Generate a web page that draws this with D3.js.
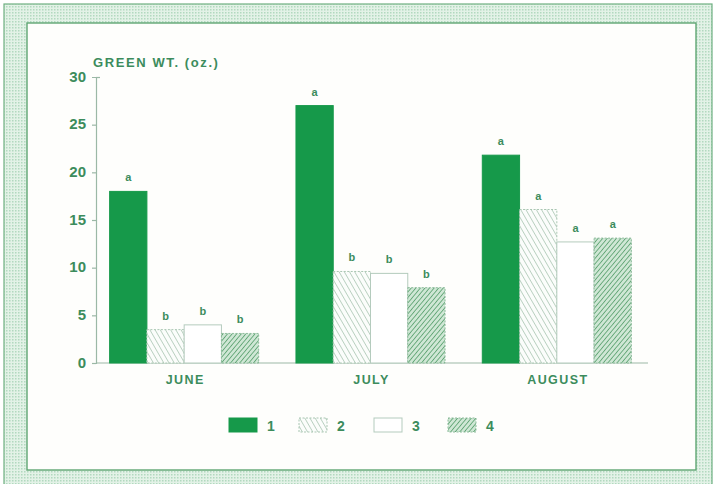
<!DOCTYPE html>
<html>
<head>
<meta charset="utf-8">
<script src="https://cdn.jsdelivr.net/npm/d3@7"></script>
<style>
  body { margin: 0; background: #fff; }
  text { font-family: "Liberation Sans", Arial, sans-serif; font-weight: bold; fill: #3c8c5c; }
</style>
</head>
<body>
<svg id="chart" width="718" height="484"></svg>
<script>
var months = ['JUNE', 'JULY', 'AUGUST'];
var treatments = ['1', '2', '3', '4'];
var june = [18, 3.5, 4.0, 3.1];
var july = [27, 9.6, 9.4, 7.9];
var august = [21.8, 16.1, 12.7, 13.1];
var juneLetters = ['a', 'b', 'b', 'b'];
var julyLetters = ['a', 'b', 'b', 'b'];
var augustLetters = ['a', 'a', 'a', 'a'];
var yTicks = [0, 5, 10, 15, 20, 25, 30];

var series = [june, july, august];
var letters = [juneLetters, julyLetters, augustLetters];

var svg = d3.select('#chart');
var green = '#16994a';
var axisColor = '#9bb8a6';

var defs = svg.append('defs');

// background mesh for the frame
var mesh = defs.append('pattern').attr('id', 'mesh')
    .attr('patternUnits', 'userSpaceOnUse').attr('width', 3).attr('height', 3);
mesh.append('rect').attr('width', 3).attr('height', 3).attr('fill', '#e3f2e7');
mesh.append('rect').attr('width', 1.5).attr('height', 1.5).attr('fill', '#b2d9bf');

var hatch2 = defs.append('pattern').attr('id', 'hatch2')
    .attr('patternUnits', 'userSpaceOnUse').attr('width', 4.5).attr('height', 4.5)
    .attr('patternTransform', 'rotate(-30)');
hatch2.append('rect').attr('width', 4.5).attr('height', 4.5).attr('fill', '#fbfdfb');
hatch2.append('line').attr('x1', 0).attr('y1', 0).attr('x2', 0).attr('y2', 4.5)
    .attr('stroke', '#97b9a2').attr('stroke-width', 1.2);

var hatch4 = defs.append('pattern').attr('id', 'hatch4')
    .attr('patternUnits', 'userSpaceOnUse').attr('width', 3.5).attr('height', 3.5)
    .attr('patternTransform', 'rotate(40)');
hatch4.append('rect').attr('width', 3.5).attr('height', 3.5).attr('fill', '#cfe7d5');
hatch4.append('line').attr('x1', 0).attr('y1', 0).attr('x2', 0).attr('y2', 3.5)
    .attr('stroke', '#4f9a66').attr('stroke-width', 1.5);

var fills = [green, 'url(#hatch2)', '#ffffff', 'url(#hatch4)'];
var strokes = [green, '#a9c6b2', '#b4cbbd', '#8dbb9b'];
var dashes = [null, '2,1.5', null, '2,1.5'];

// frame
svg.append('rect').attr('x', 0).attr('y', 0).attr('width', 718).attr('height', 484).attr('fill', '#ffffff');
svg.append('rect').attr('x', 4).attr('y', 4).attr('width', 708).attr('height', 490)
    .attr('fill', 'url(#mesh)').attr('stroke', '#6fb082').attr('stroke-width', 1.2);
svg.append('rect').attr('x', 27).attr('y', 23).attr('width', 669).attr('height', 447)
    .attr('fill', '#fefefc').attr('stroke', '#5ea572').attr('stroke-width', 1.4);

var x = d3.scaleBand().domain(months).range([91, 650]).paddingInner(0.2).paddingOuter(0.1);
var xs = d3.scaleBand().domain(treatments).range([0, x.bandwidth()]);
var y = d3.scaleLinear().domain([0, 30]).range([363, 77]);

// y axis
var yAxis = svg.append('g').attr('transform', 'translate(96,0)')
    .call(d3.axisLeft(y).tickValues(yTicks).tickSize(4).tickPadding(6));
yAxis.select('.domain').attr('stroke', axisColor).attr('stroke-width', 1.2);
yAxis.selectAll('.tick line').attr('stroke', axisColor).attr('stroke-width', 1.2)
    .attr('x2', function(d) { return d === 30 ? 4 : -4; });
yAxis.selectAll('.tick text').style('font-size', '15px').style('font-family', '"Liberation Sans", Arial, sans-serif')
    .style('font-weight', 'bold').attr('fill', '#3c8c5c').attr('dy', '0.28em');

// x axis baseline
svg.append('line').attr('x1', 96).attr('x2', 648).attr('y1', y(0)).attr('y2', y(0))
    .attr('stroke', axisColor).attr('stroke-width', 1.2);

svg.append('text').attr('x', 93).attr('y', 67).style('font-size', '13px')
    .style('letter-spacing', '1.6px').text('GREEN WT. (oz.)');

var groups = svg.selectAll('g.month').data(months).enter().append('g')
    .attr('class', 'month')
    .attr('transform', function(d) { return 'translate(' + x(d) + ',0)'; });

groups.each(function(m, mi) {
    var g = d3.select(this);
    var vals = series[mi].map(function(v, i) { return { t: treatments[i], v: v, i: i, l: letters[mi][i] }; });
    g.selectAll('rect').data(vals).enter().append('rect')
        .attr('x', function(d) { return xs(d.t); })
        .attr('y', function(d) { return y(d.v); })
        .attr('width', xs.bandwidth())
        .attr('height', function(d) { return y(0) - y(d.v); })
        .attr('fill', function(d) { return fills[d.i]; })
        .attr('stroke', function(d) { return strokes[d.i]; })
        .attr('stroke-width', 1)
        .attr('stroke-dasharray', function(d) { return dashes[d.i]; });
    g.selectAll('text.sig').data(vals).enter().append('text')
        .attr('class', 'sig')
        .attr('x', function(d) { return xs(d.t) + xs.bandwidth() / 2; })
        .attr('y', function(d) { return y(d.v) - 10; })
        .attr('text-anchor', 'middle')
        .style('font-size', '11px')
        .text(function(d) { return d.l; });
    g.append('text')
        .attr('x', x.bandwidth() / 2 + 1).attr('y', 384)
        .attr('text-anchor', 'middle')
        .style('font-size', '12.5px')
        .style('letter-spacing', '1.4px')
        .text(m);
});

// legend
var legendX = [229, 299, 374, 448];
var legend = svg.selectAll('g.legend').data(treatments).enter().append('g')
    .attr('class', 'legend')
    .attr('transform', function(d, i) { return 'translate(' + legendX[i] + ',418)'; });
legend.append('rect')
    .attr('width', 28).attr('height', 14)
    .attr('fill', function(d, i) { return fills[i]; })
    .attr('stroke', function(d, i) { return strokes[i]; })
    .attr('stroke-dasharray', function(d, i) { return dashes[i]; });
legend.append('text').attr('x', 38).attr('y', 13).style('font-size', '14px')
    .text(function(d) { return d; });
</script>
</body>
</html>
